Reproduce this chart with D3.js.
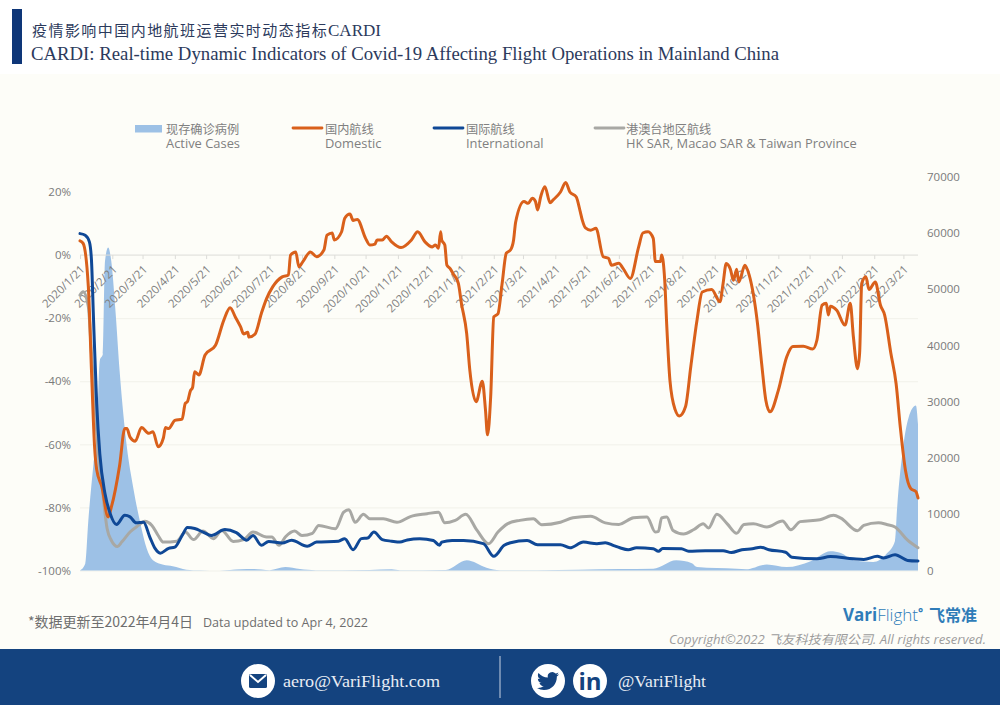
<!DOCTYPE html>
<html><head><meta charset="utf-8">
<script src="https://cdn.jsdelivr.net/npm/d3@7"></script>
<style>html,body{margin:0;padding:0;background:#fff}svg{display:block}
.sans{font-family:"Open Sans","Noto Sans CJK SC",sans-serif}
.axis path{display:none}</style></head><body>
<svg id="c" width="1000" height="705"></svg>
<script>
// Days counted from startDate
const startDate = "2020-01-21";
const endDay = 804;
const tickLabels = ["2020/1/21","2020/2/21","2020/3/21","2020/4/21","2020/5/21","2020/6/21","2020/7/21","2020/8/21","2020/9/21","2020/10/21","2020/11/21","2020/12/21","2021/1/21","2021/2/21","2021/3/21","2021/4/21","2021/5/21","2021/6/21","2021/7/21","2021/8/21","2021/9/21","2021/10/21","2021/11/21","2021/12/21","2022/1/21","2022/2/21","2022/3/21"];
const pctTicks = [20,0,-20,-40,-60,-80,-100];
const caseTicks = [0,10000,20000,30000,40000,50000,60000,70000];

const casesDays = [0,5,8,13,16,19,22,24,27,30,34,38,45,51,58,64,70,80,89,102,115,134,154,166,182,197,211,226,278,299,307,351,371,390,403,439,518,550,572,587,592,630,639,659,678,701,720,730,742,761,774,782,784,789,795,802,804];
const casesValues = [0,1200,8900,19000,24000,37300,38500,55000,57400,55000,46200,35500,21900,14800,8300,3900,1800,1000,750,150,50,0,200,250,50,600,250,30,100,200,50,100,1800,500,50,50,250,300,1800,1300,600,300,200,1050,600,1650,3400,3100,1800,1500,3000,5300,11200,20800,27200,29300,26000];

const domesticDays = [0,3,8,11,14,16,21,27,30,38,43,45,48,53,59,66,70,75,80,82,85,91,98,101,103,106,108,110,114,120,130,138,144,149,154,157,161,162,168,174,179,185,194,200,202,207,210,214,221,227,234,237,242,244,251,254,259,262,266,274,278,283,285,290,294,299,308,318,324,331,338,341,344,346,347,350,352,355,358,363,366,371,374,380,386,389,391,394,397,401,405,409,413,416,418,426,430,434,437,439,442,446,451,454,461,466,470,476,480,482,485,490,495,502,507,510,517,521,528,536,540,545,550,552,557,558,561,563,566,571,575,581,586,592,597,606,614,617,620,624,627,630,632,638,642,650,654,658,662,670,678,684,694,703,707,712,716,718,720,726,734,739,742,746,748,750,754,757,763,768,772,778,783,787,792,797,802,804];
const domesticValues = [4.5,3.7,-10,-36.5,-60.8,-68,-73.5,-83,-80,-66.7,-55,-55,-57.7,-59,-54.7,-56.5,-56,-60.8,-58,-54.7,-55,-52.4,-52,-47,-46.5,-43,-42,-37,-38,-31.7,-28.6,-20.6,-16.7,-19.6,-22.7,-25,-24.5,-26,-25,-18.5,-13.8,-10,-6.9,-6.3,0,1,-3.7,-2,1,-0.5,1.6,6.3,7,4.8,7.4,11.7,13,11,11.3,5.3,3.2,3.5,4.8,4.8,6,4.2,2.4,4.8,7.4,4.2,2.6,3.2,2.2,7.4,4.8,3.2,-3.2,-4.2,-5.9,-9,-15.4,-24.9,-36.5,-46.5,-40,-49,-57,-45,-19.6,-18.6,-9,0.6,1.6,4.8,10.5,17,16.4,18,17,14.3,18.5,21.7,16.6,17.5,20,23,20,18.5,13.7,11,8.6,7.9,8.5,-0.5,-1,-3.2,-2.6,-4.2,-7.4,2.6,7,7.4,5.3,-2,-2,0,-8,-22.7,-39.7,-49,-51,-48,-35.4,-20.6,-11.7,-10.9,-14.8,-9,-2.7,-4.5,-8,-4.5,-8.5,-3.2,-6.3,-21.7,-34.4,-46,-49.7,-42.9,-32.3,-29,-28.9,-29.8,-27,-15.9,-15.3,-19,-16.2,-17.5,-22.2,-15.3,-25.9,-36,-31,-9,-6.9,-10.9,-8.5,-15.9,-19,-31.2,-40.8,-54.5,-68.3,-74,-75,-77];

const intlDays = [0,5,9,11,13,16,19,24,29,35,43,48,54,61,67,72,77,85,91,98,103,110,118,126,139,150,160,166,174,181,194,203,218,227,248,254,262,270,276,282,290,299,307,314,326,339,345,347,357,368,387,397,407,413,429,439,461,470,483,496,504,512,518,526,534,550,555,559,577,584,600,617,625,635,645,653,661,677,683,707,720,742,752,765,771,782,794,804];
const intlValues = [6.8,6.3,4.2,-1.6,-20.6,-47,-63,-75.7,-82,-85.4,-82.5,-83,-84.9,-84.7,-89.4,-93,-94.5,-93,-92.6,-88.9,-86.4,-86.7,-87.8,-88.9,-87,-88,-90.4,-88.9,-92,-90.8,-91.3,-90.4,-92.3,-91,-90.7,-89.9,-93.4,-89.9,-89.7,-87.8,-90.2,-90.7,-91,-90.3,-89.9,-90.5,-92,-91,-90.5,-90.5,-91.5,-95.5,-92,-91.2,-90.5,-91.8,-91.8,-92.8,-91,-91.5,-91.2,-92.1,-92.8,-93.4,-92.8,-93.1,-93.9,-93,-93.1,-93.9,-93.7,-93.7,-94.3,-93.4,-93.1,-92.6,-93.4,-94.2,-95.8,-96.3,-95.6,-96.3,-96.5,-95.5,-96,-95,-96.8,-97];

const hkDays = [0,3,8,11,17,21,26,30,36,40,48,56,62,69,75,80,93,101,109,118,128,136,147,157,166,179,184,191,197,206,213,223,229,245,253,258,264,272,278,291,304,317,333,344,350,360,370,381,392,401,410,422,435,443,461,473,490,504,517,531,544,552,555,558,563,569,579,589,598,603,611,621,630,637,646,659,674,682,691,710,723,730,746,752,766,774,782,794,804];
const hkValues = [-12.7,-11.6,-16.4,-31,-60,-72.5,-86.7,-90.4,-92.4,-91,-87.8,-85.7,-84.4,-85.7,-88.9,-91,-90.7,-87.8,-90.2,-87.5,-89.9,-87.3,-90.8,-90.2,-87.8,-89.4,-89.4,-92,-89.4,-87.5,-88.9,-88.2,-85.7,-86.8,-81.5,-80.7,-84.7,-82.2,-83.6,-83.6,-84.7,-82.9,-82,-81.5,-84.9,-84.1,-82.2,-87.3,-91.5,-87.8,-85.2,-84.1,-83.6,-85.5,-84.7,-83.3,-82.8,-84.9,-85.4,-83.3,-83,-87.8,-87.6,-83.3,-83,-87.3,-88.4,-87,-85.2,-86.5,-82.2,-85.2,-88.2,-85.4,-85.2,-86.2,-84.3,-87.1,-84.5,-83.9,-82.5,-83.4,-87.4,-85.7,-84.9,-85.4,-86.2,-90.4,-92.8];

const legendLines = [["现存确诊病例","Active Cases"],["国内航线","Domestic"],["国际航线","International"],["港澳台地区航线","HK SAR, Macao SAR & Taiwan Province"]];
const colors = {cases:"#9dc1e6",domestic:"#d9601b",intl:"#0f4896",hk:"#a8a8a4"};

const svg = d3.select("#c");
const W=1000,H=705;
const parse = d3.timeParse("%Y-%m-%d");
const t0 = parse(startDate);
const dayToDate = d => d3.timeDay.offset(t0,d);
const x = d3.scaleTime().domain([t0,dayToDate(endDay)]).range([80,918]);
const yPct = d3.scaleLinear().domain([-100,20]).range([570.5,192]);
const yCases = d3.scaleLinear().domain([0,70000]).range([570.5,176.5]);

// backgrounds
svg.append("rect").attr("width",W).attr("height",H).attr("fill","#fff");
svg.append("rect").attr("y",74).attr("width",W).attr("height",575).attr("fill","#fdfdf8");
svg.append("rect").attr("y",649).attr("width",W).attr("height",56).attr("fill","#14437f");
svg.append("rect").attr("x",12).attr("y",9).attr("width",10).attr("height",55).attr("fill","#0e3678");

// title
const serif='"Liberation Serif","DejaVu Serif",serif';
svg.append("text").attr("x",32).attr("y",36).attr("fill","#2c3a5c")
  .attr("font-family",'"Noto Sans CJK SC"').attr("font-size",15).attr("letter-spacing",1.45).text("疫情影响中国内地航班运营实时动态指标");
svg.append("text").attr("x",328).attr("y",36).attr("fill","#2c3a5c")
  .attr("font-family",serif).attr("font-size",17).attr("textLength",53).attr("lengthAdjust","spacingAndGlyphs").text("CARDI");
svg.append("text").attr("x",31).attr("y",60).attr("font-family",serif).attr("font-size",18).attr("fill","#2c3a5c")
  .attr("textLength",748).attr("lengthAdjust","spacingAndGlyphs").text("CARDI: Real-time Dynamic Indicators of Covid-19 Affecting Flight Operations in Mainland China");

// axes
const grid = svg.append("g").attr("class","axis").attr("transform","translate(80,0)")
  .call(d3.axisLeft(yPct).tickValues(pctTicks.filter(v=>v!==20&&v!==0)).tickSize(-838).tickFormat(""));
grid.selectAll("line").attr("stroke","#f1f1ea").attr("stroke-width",1);

const area = d3.area().x(d=>x(dayToDate(d[0]))).y0(yCases(0)).y1(d=>yCases(d[1])).curve(d3.curveMonotoneX);
svg.append("path").datum(d3.zip(casesDays,casesValues)).attr("d",area).attr("fill",colors.cases);

const xAxis = svg.append("g").attr("class","axis sans").attr("transform",`translate(0,${yPct(0)})`)
  .call(d3.axisBottom(x).tickValues(tickLabels.map(s=>d3.timeParse("%Y/%m/%d")(s))).tickSize(4).tickFormat(d3.timeFormat("%Y/%-m/%-d")));
xAxis.selectAll("line").attr("stroke","#dcdcd8");
xAxis.selectAll("text").attr("font-size",11.5).attr("fill","#808080").attr("font-family",'"Open Sans",sans-serif')
  .attr("text-anchor","end").attr("dx",0).attr("dy",0).attr("y",0)
  .attr("transform","translate(5,15) rotate(-45)");
svg.append("line").attr("x1",80).attr("x2",918).attr("y1",yPct(0)).attr("y2",yPct(0)).attr("stroke","#dcdcd8");

const yL = svg.append("g").attr("class","axis sans").attr("transform","translate(80,0)")
  .call(d3.axisLeft(yPct).tickValues(pctTicks).tickSize(0).tickPadding(9).tickFormat(d=>d+"%"));
yL.selectAll("text").attr("font-size",11.5).attr("fill","#7a7a7a").attr("font-family",'"Open Sans",sans-serif');
const yR = svg.append("g").attr("class","axis sans").attr("transform","translate(918,0)")
  .call(d3.axisRight(yCases).tickValues(caseTicks).tickSize(0).tickPadding(9).tickFormat(d3.format("d")));
yR.selectAll("text").attr("font-size",11.5).attr("fill","#7a7a7a").attr("font-family",'"Open Sans",sans-serif');

// lines
const line = d3.line().x(d=>x(dayToDate(d[0]))).y(d=>yPct(d[1])).curve(d3.curveMonotoneX);
[[hkDays,hkValues,colors.hk],[domesticDays,domesticValues,colors.domestic],[intlDays,intlValues,colors.intl]].forEach(([ds,vs,c])=>{
  svg.append("path").datum(d3.zip(ds,vs)).attr("d",line).attr("fill","none").attr("stroke",c)
    .attr("stroke-width",3).attr("stroke-linejoin","round").attr("stroke-linecap","round");
});

// legend
const legX=[166,325,466,626], swX=[135,293,434,595];
const swC=[colors.cases,colors.domestic,colors.intl,colors.hk];
legendLines.forEach((l,i)=>{
  if(i===0) svg.append("rect").attr("x",swX[i]).attr("y",125).attr("width",27).attr("height",7.5).attr("fill",swC[i]);
  else svg.append("line").attr("x1",swX[i]).attr("x2",swX[i]+29).attr("y1",128).attr("y2",128).attr("stroke",swC[i]).attr("stroke-width",2.8).attr("stroke-linecap","round");
  svg.append("text").attr("x",legX[i]).attr("y",133.5).attr("font-family",'"Noto Sans CJK SC"').attr("font-size",12.2).attr("fill","#808080").text(l[0]);
  svg.append("text").attr("x",legX[i]).attr("y",147.5).attr("font-family",'"Open Sans",sans-serif').attr("font-size",12.9).attr("fill","#808080").text(l[1]);
});

// notes
svg.append("text").attr("x",28).attr("y",627).attr("font-family",'"Noto Sans CJK SC"').attr("font-size",14).attr("fill","#6e6e6e").attr("textLength",165).attr("lengthAdjust","spacingAndGlyphs").text("*数据更新至2022年4月4日");
svg.append("text").attr("x",203).attr("y",627).attr("font-family",'"Open Sans",sans-serif').attr("font-size",12).attr("fill","#6e6e6e").attr("textLength",165).attr("lengthAdjust","spacingAndGlyphs").text("Data updated to Apr 4, 2022");
const logo=svg.append("text").attr("x",843).attr("y",621).attr("font-family",'"Open Sans",sans-serif').attr("font-size",17).attr("fill","#2f7cb8");
logo.append("tspan").attr("font-weight",700).text("Vari");
logo.append("tspan").attr("font-weight",300).text("Flight");
logo.append("tspan").attr("font-weight",700).attr("dy",-4).attr("font-size",12).text("°");
svg.append("text").attr("x",929).attr("y",621).attr("font-family",'"Noto Sans CJK SC"').attr("font-weight",700).attr("font-size",16).attr("fill","#2f7cb8").text("飞常准");
svg.append("text").attr("x",669).attr("y",644).attr("font-family",'"Open Sans","Noto Sans CJK SC",sans-serif').attr("font-style","italic").attr("font-size",12.5).attr("fill","#9c9c9c").attr("textLength",317).attr("lengthAdjust","spacingAndGlyphs").text("Copyright©2022 飞友科技有限公司. All rights reserved.");

// footer
const icon=(cx)=>svg.append("circle").attr("cx",cx).attr("cy",681).attr("r",17).attr("fill","#fff");
icon(258);icon(548);icon(590);
svg.append("rect").attr("x",249).attr("y",674).attr("width",18).attr("height",14).attr("rx",1.5).attr("fill","#14437f");
svg.append("path").attr("d","M250 675 L258 682 L266 675").attr("fill","none").attr("stroke","#fff").attr("stroke-width",2);
svg.append("path").attr("transform","translate(537,670) scale(0.92)").attr("fill","#14437f")
  .attr("d","M23.953 4.57a10 10 0 01-2.825.775 4.958 4.958 0 002.163-2.723c-.951.555-2.005.959-3.127 1.184a4.92 4.92 0 00-8.384 4.482C7.69 8.095 4.067 6.13 1.64 3.162a4.822 4.822 0 00-.666 2.475c0 1.71.87 3.213 2.188 4.096a4.904 4.904 0 01-2.228-.616v.06a4.923 4.923 0 003.946 4.827 4.996 4.996 0 01-2.212.085 4.936 4.936 0 004.604 3.417 9.867 9.867 0 01-6.102 2.105c-.39 0-.779-.023-1.17-.067a13.995 13.995 0 007.557 2.209c9.053 0 13.998-7.496 13.998-13.985 0-.21 0-.42-.015-.63A9.935 9.935 0 0024 4.59z");
svg.append("text").attr("x",590).attr("y",690).attr("text-anchor","middle").attr("font-family",'"Open Sans",sans-serif').attr("font-weight",700).attr("font-size",24).attr("fill","#14437f").text("in");
svg.append("line").attr("x1",500).attr("x2",500).attr("y1",656).attr("y2",698).attr("stroke","#c9d4e4").attr("stroke-width",1);
svg.append("text").attr("x",283).attr("y",687).attr("font-family",serif).attr("font-size",17).attr("fill","#e8edf4").attr("textLength",157).attr("lengthAdjust","spacingAndGlyphs").text("aero@VariFlight.com");
svg.append("text").attr("x",618).attr("y",687).attr("font-family",serif).attr("font-size",17).attr("fill","#e8edf4").attr("textLength",88).attr("lengthAdjust","spacingAndGlyphs").text("@VariFlight");
</script></body></html>
